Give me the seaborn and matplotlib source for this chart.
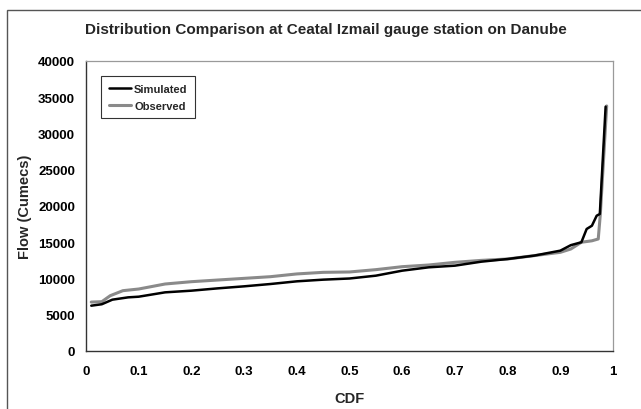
import matplotlib
matplotlib.use("Agg")
import matplotlib.pyplot as plt
import seaborn as sns
import pandas as pd
from matplotlib.patches import Rectangle

# Data
cdf_sim = [0.01, 0.03, 0.05, 0.08, 0.1, 0.15, 0.2, 0.25, 0.3, 0.35, 0.4, 0.45, 0.5,
           0.55, 0.6, 0.65, 0.7, 0.75, 0.8, 0.85, 0.9, 0.92, 0.94, 0.95, 0.96,
           0.969, 0.975, 0.986]
flow_sim = [6250, 6450, 7080, 7400, 7490, 8090, 8320, 8640, 8920, 9240, 9610, 9840, 10000,
            10390, 11080, 11540, 11770, 12320, 12690, 13150, 13840, 14600, 15000, 16830, 17280,
            18660, 18900, 33700]

cdf_obs = [0.01, 0.03, 0.046, 0.07, 0.1, 0.15, 0.2, 0.25, 0.3, 0.35, 0.4, 0.45, 0.5,
           0.55, 0.6, 0.65, 0.7, 0.75, 0.8, 0.85, 0.9, 0.92, 0.94, 0.96, 0.972,
           0.976, 0.988]
flow_obs = [6750, 6800, 7630, 8320, 8550, 9240, 9560, 9790, 10020, 10250, 10630, 10850, 10900,
            11220, 11630, 11860, 12230, 12500, 12690, 13150, 13610, 14070, 15000, 15200, 15450,
            18900, 33800]

series_names = ["Simulated", "Observed"]
x_ticks = [0, 0.1, 0.2, 0.3, 0.4, 0.5, 0.6, 0.7, 0.8, 0.9, 1]
x_tick_labels = ["0", "0.1", "0.2", "0.3", "0.4", "0.5", "0.6", "0.7", "0.8", "0.9", "1"]
y_ticks = [0, 5000, 10000, 15000, 20000, 25000, 30000, 35000, 40000]

sns.set_theme(style="white")
plt.rcParams["font.family"] = ["Liberation Sans", "DejaVu Sans"]
plt.rcParams["font.weight"] = "bold"

fig = plt.figure(figsize=(6.41, 4.10), dpi=100)
ax = fig.add_axes([86 / 641, 1 - 352 / 410, (613 - 86) / 641, (352 - 62) / 410])

df_sim = pd.DataFrame({"CDF": cdf_sim, "Flow": flow_sim})
df_obs = pd.DataFrame({"CDF": cdf_obs, "Flow": flow_obs})

sns.lineplot(data=df_obs, x="CDF", y="Flow", ax=ax, color="#8a8a8a", lw=2.2,
             label=series_names[1], estimator=None, sort=False)
sns.lineplot(data=df_sim, x="CDF", y="Flow", ax=ax, color="black", lw=1.8,
             label=series_names[0], estimator=None, sort=False)

ax.set_xlim(0, 1)
ax.set_ylim(0, 40000)
ax.set_xticks(x_ticks)
ax.set_xticklabels(x_tick_labels)
ax.set_yticks(y_ticks)
ax.set_yticklabels([str(v) for v in y_ticks])
ax.tick_params(axis="both", labelsize=9.5, direction="out", length=4, width=0.8,
               colors="black", pad=3)
ax.tick_params(axis="x", pad=6)
ax.tick_params(axis="y", pad=4)
for lbl in ax.get_xticklabels() + ax.get_yticklabels():
    lbl.set_fontweight("bold")

ax.set_xlabel("CDF", fontsize=10.5, fontweight="bold", labelpad=10)
ax.set_ylabel("Flow (Cumecs)", fontsize=10.5, fontweight="bold", labelpad=4)

for s in ["left", "bottom"]:
    ax.spines[s].set_color("#333333")
    ax.spines[s].set_linewidth(1.0)
for s in ["top", "right"]:
    ax.spines[s].set_color("#9a9a9a")
    ax.spines[s].set_linewidth(0.9)
    ax.spines[s].set_linestyle((0, (2, 1)))

handles, labels = ax.get_legend_handles_labels()
order = [labels.index(n) for n in series_names]
leg = ax.legend([handles[i] for i in order], [labels[i] for i in order],
                loc="upper left", bbox_to_anchor=(0.028, 0.948), borderaxespad=0,
                fontsize=8, frameon=True, fancybox=False, handlelength=2.0,
                handletextpad=0.3, borderpad=0.7, labelspacing=0.6)
leg.get_frame().set_edgecolor("black")
leg.get_frame().set_linewidth(0.8)

fig.text(326 / 641, 1 - 30 / 410, "Distribution Comparison at Ceatal Izmail gauge station on Danube",
         ha="center", va="center", fontsize=11, fontweight="bold")

fig.patches.append(Rectangle((7 / 641, -0.01), 1.0, 1 - 11 / 410 + 0.01,
                             transform=fig.transFigure, fill=False,
                             edgecolor="#555555", linewidth=1.0))

fig.savefig("out.png", dpi=100)
